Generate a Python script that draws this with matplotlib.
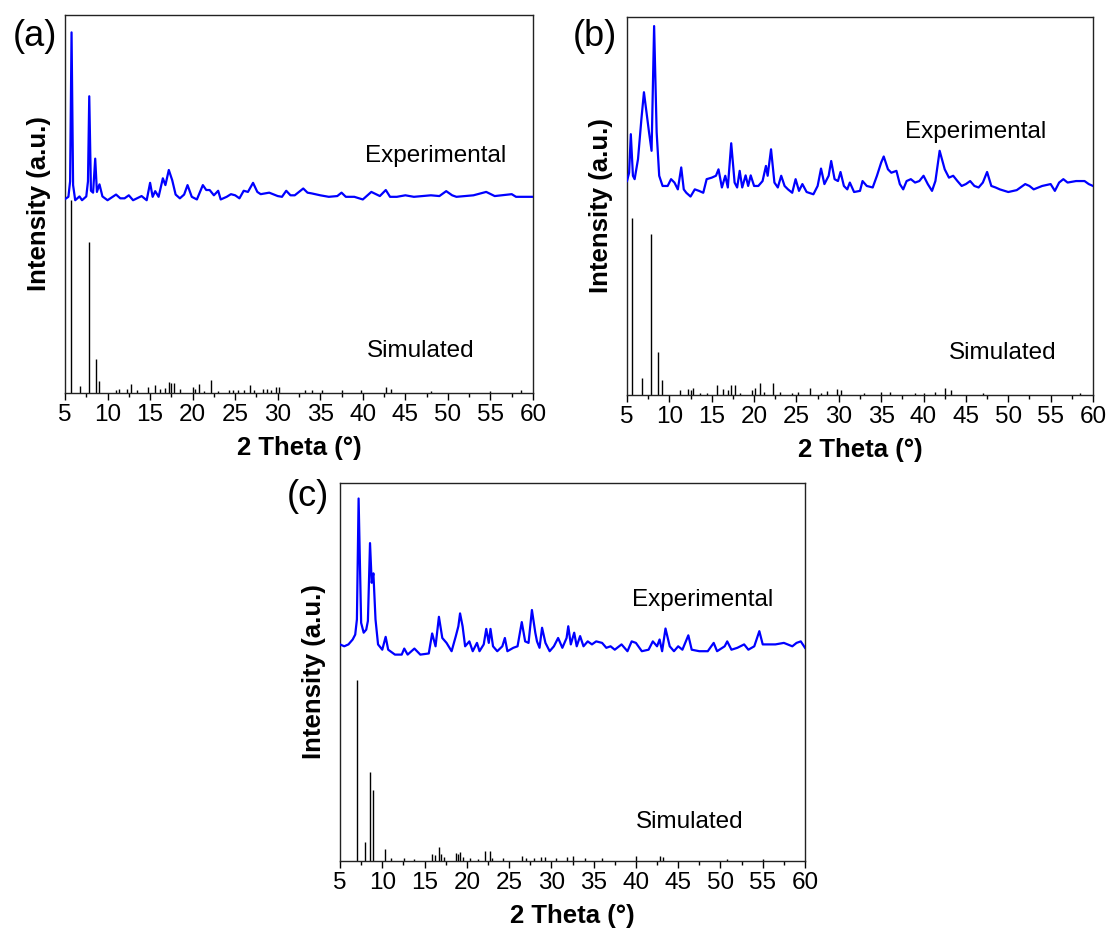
import numpy as np
import matplotlib
matplotlib.use("Agg")
import matplotlib.pyplot as plt
from matplotlib.ticker import MultipleLocator

plt.rcParams['font.family'] = ['Liberation Sans', 'DejaVu Sans']

# ---- panel (a) ----
a_exp_x = [5.0, 5.4, 5.6, 5.77, 5.95, 6.2, 6.7, 7.0, 7.5, 7.7, 7.85, 8.05, 8.3, 8.55, 8.75, 9.05, 9.4,
           10.0, 11.0, 11.5, 12.0, 12.5, 13.0, 14.0, 14.6, 15.0, 15.3, 15.6, 16.0, 16.5, 16.8, 17.2,
           17.6, 18.0, 18.5, 19.0, 19.4, 19.9, 20.5, 21.2, 21.6, 22.0, 22.5, 23.0, 23.3, 24.0, 24.5,
           25.0, 25.5, 26.0, 26.5, 27.1, 27.6, 28.0, 29.0, 30.0, 30.5, 31.0, 31.5, 32.0, 33.0, 33.5,
           34.0, 35.0, 36.0, 37.0, 37.5, 38.0, 39.0, 40.0, 41.0, 42.0, 42.7, 43.2, 44.0, 45.0, 46.0,
           47.0, 48.0, 49.0, 49.8, 50.5, 51.0, 52.0, 53.0, 54.5, 55.5, 57.5, 58.0, 60.0]
a_exp_y = [51.3, 51.9, 56.0, 95.4, 55.0, 51.0, 52.0, 51.0, 52.0, 56.0, 78.5, 53.5, 53.0, 62.0, 53.2, 55.2, 52.0,
           51.0, 52.5, 51.5, 51.5, 52.3, 51.0, 52.1, 51.0, 55.6, 51.9, 53.4, 51.9, 56.8, 55.0, 59.0,
           56.3, 52.5, 51.5, 52.5, 55.0, 51.9, 51.2, 55.0, 53.7, 53.7, 52.3, 53.5, 51.2, 51.9, 52.6,
           52.3, 51.5, 53.5, 53.2, 55.6, 53.2, 52.6, 53.0, 52.1, 51.9, 53.5, 52.3, 52.3, 54.1, 53.0,
           52.8, 52.3, 51.9, 52.1, 53.0, 51.9, 51.9, 51.2, 53.2, 52.1, 53.7, 51.9, 51.9, 52.3, 51.9,
           52.1, 52.3, 52.1, 53.4, 52.3, 51.9, 52.1, 52.3, 53.2, 52.1, 52.6, 51.9, 51.9]
a_sim_x = [5.7, 6.8, 7.85, 8.7, 9.05, 11.0, 11.3, 12.3, 12.8, 13.5, 14.7, 15.6, 16.2, 16.7, 17.2, 17.5,
           17.8, 18.5, 20.0, 20.3, 20.7, 21.3, 22.2, 23.0, 24.3, 24.8, 25.3, 26.0, 26.7, 27.2, 28.3,
           28.7, 29.2, 29.8, 30.2, 33.2, 34.0, 35.2, 37.5, 39.8, 42.7, 43.3, 48.0, 55.0, 58.6]
a_sim_y = [51.0, 1.8, 40.0, 9.0, 3.2, 0.9, 1.1, 1.1, 2.5, 0.9, 1.6, 2.0, 1.1, 1.4, 2.9, 2.6,
           2.7, 1.1, 1.6, 1.1, 2.5, 0.5, 3.4, 0.5, 0.7, 0.9, 0.9, 0.7, 2.0, 0.7, 1.1,
           1.1, 0.9, 1.6, 1.6, 0.7, 0.9, 0.9, 0.7, 0.7, 1.6, 1.1, 0.5, 0.4, 0.7]

# ---- panel (b) ----
b_exp_x = [5.0, 5.25, 5.45, 5.7, 5.9, 6.3, 6.7, 7.0, 7.3, 7.6, 7.9, 8.2, 8.5, 8.8, 9.2, 9.8, 10.2, 10.6,
           11.0, 11.4, 11.7, 12.0, 12.5, 13.0, 13.5, 14.0, 14.4, 15.0, 15.5, 15.8, 16.2, 16.6, 16.9,
           17.3, 17.7, 18.0, 18.3, 18.6, 19.0, 19.3, 19.6, 20.0, 20.5, 21.0, 21.4, 21.6, 22.0, 22.4,
           22.8, 23.2, 23.6, 24.0, 24.5, 24.9, 25.3, 25.7, 26.2, 27.0, 27.5, 27.9, 28.3, 28.8, 29.1,
           29.5, 29.9, 30.2, 30.6, 31.0, 31.3, 31.8, 32.5, 32.8, 33.3, 34.0, 34.5, 35.0, 35.3, 35.8,
           36.2, 36.8, 37.2, 37.6, 38.0, 38.5, 39.0, 39.5, 40.0, 40.5, 41.0, 41.4, 41.9, 42.5, 43.0,
           43.5, 44.0, 44.5, 45.0, 45.5, 46.0, 46.5, 47.0, 47.5, 48.0, 48.5, 49.0, 50.0, 51.0, 52.0,
           52.5, 53.0, 54.0, 55.0, 55.5, 56.0, 56.5, 57.0, 58.0, 59.0, 59.5, 60.0]
b_exp_y = [56.6, 58.8, 69.0, 58.0, 57.1, 62.4, 73.0, 80.1, 74.8, 69.5, 64.6, 97.6, 69.5, 58.0, 55.3, 55.3, 57.1, 56.2,
           54.4, 60.2, 54.4, 53.5, 52.5, 54.4, 54.0, 53.5, 57.1, 57.5, 58.0, 59.7, 54.9, 58.0, 54.9,
           66.6, 56.2, 54.9, 59.3, 54.9, 58.1, 55.3, 58.1, 55.3, 55.3, 56.6, 60.6, 58.0, 65.0, 56.2,
           54.9, 58.0, 55.3, 54.4, 53.5, 57.1, 54.0, 55.8, 53.7, 53.1, 55.3, 59.9, 55.8, 58.0, 61.9,
           57.1, 56.6, 59.0, 55.3, 54.4, 56.2, 53.7, 54.0, 56.6, 55.3, 54.9, 58.0, 61.5, 63.1, 59.7,
           58.8, 59.3, 55.8, 54.4, 56.6, 57.1, 56.2, 56.6, 58.0, 55.8, 54.0, 56.6, 64.6, 59.7, 57.5,
           58.0, 56.6, 55.3, 55.8, 56.6, 55.3, 54.9, 56.2, 59.0, 55.3, 54.9, 54.4, 53.7, 54.2, 55.8,
           55.3, 54.4, 55.3, 55.8, 54.0, 56.2, 57.1, 56.2, 56.6, 56.6, 55.8, 55.3]
b_sim_x = [5.6, 6.8, 7.8, 8.7, 9.1, 11.3, 12.2, 12.5, 12.8, 13.6, 14.5, 15.6, 16.3, 16.9, 17.3, 17.8,
           18.3, 19.8, 20.1, 20.7, 21.2, 22.2, 23.0, 24.5, 25.2, 26.6, 27.9, 28.6, 29.8, 30.2, 33.0,
           35.0, 36.0, 39.0, 40.0, 41.4, 42.5, 43.2, 47.0, 58.5]
b_sim_y = [46.9, 4.4, 42.5, 11.5, 4.0, 1.3, 1.5, 1.3, 1.9, 0.4, 0.6, 2.7, 1.5, 1.3, 2.7, 2.7,
           0.6, 1.3, 1.8, 3.3, 0.9, 3.3, 0.9, 0.6, 0.9, 1.8, 0.6, 1.0, 1.5, 1.2, 0.4,
           0.8, 0.7, 0.4, 0.6, 0.9, 1.9, 1.2, 0.4, 0.4]

# ---- panel (c) ----
c_exp_x = [5.0, 5.5, 6.0, 6.5, 6.8, 7.0, 7.2, 7.5, 7.8, 8.1, 8.3, 8.55, 8.75, 8.95, 9.2, 9.5, 10.0,
           10.4, 10.7, 11.5, 12.3, 12.6, 13.0, 13.8, 14.5, 15.5, 15.9, 16.3, 16.7, 17.1, 17.6, 18.2,
           18.7, 19.0, 19.2, 19.5, 19.8, 20.3, 20.7, 21.2, 21.5, 22.0, 22.3, 22.6, 22.8, 23.1, 23.6,
           24.2, 24.5, 24.8, 25.5, 26.0, 26.5, 26.9, 27.3, 27.7, 28.1, 28.3, 28.6, 28.9, 29.3, 29.8,
           30.3, 30.8, 31.3, 31.8, 32.0, 32.3, 32.7, 33.0, 33.4, 33.8, 34.3, 34.8, 35.3, 36.0, 36.5,
           37.0, 37.5, 38.3, 39.0, 39.5, 40.0, 40.7, 41.5, 42.0, 42.5, 42.8, 43.1, 43.5, 44.0, 44.5,
           45.0, 45.5, 46.2, 46.6, 47.5, 48.5, 49.2, 49.6, 50.5, 50.8, 51.3, 52.0, 52.8, 53.3, 54.0,
           54.6, 55.0, 55.5, 56.5, 57.5, 58.5, 59.0, 59.5, 60.0]
c_exp_y = [57.3, 56.8, 57.3, 58.6, 59.9, 63.9, 95.9, 63.0, 60.4, 61.2, 63.5, 84.1, 73.6, 76.1, 63.9, 57.3, 55.9,
           59.3, 55.9, 54.6, 54.6, 56.2, 54.6, 56.2, 54.6, 54.9, 60.2, 56.8, 64.6, 59.0, 57.7, 55.5,
           59.5, 62.1, 65.5, 62.1, 56.8, 58.1, 55.5, 57.7, 55.5, 57.3, 61.4, 57.7, 61.4, 56.8, 55.5,
           56.8, 59.0, 55.5, 56.4, 56.8, 63.2, 58.1, 57.7, 66.4, 60.4, 58.1, 56.4, 61.7, 57.7, 55.5,
           56.8, 59.0, 56.4, 59.0, 62.1, 57.3, 60.4, 56.8, 59.5, 56.8, 58.1, 57.3, 58.1, 57.7, 56.4,
           56.8, 55.9, 57.3, 55.5, 58.1, 57.7, 55.5, 55.9, 58.1, 56.8, 58.6, 55.5, 61.5, 56.8, 55.5,
           56.8, 55.9, 59.7, 55.9, 55.5, 55.5, 57.7, 55.5, 56.8, 58.1, 55.9, 56.4, 57.3, 55.9, 56.8,
           60.8, 57.3, 57.3, 57.3, 57.7, 56.8, 57.7, 58.1, 56.4]
c_sim_x = [7.05, 7.9, 8.5, 8.85, 10.3, 11.0, 12.6, 13.8, 15.9, 16.2, 16.7, 17.0, 17.3, 18.7, 19.0,
           19.2, 19.5, 20.4, 21.3, 22.2, 22.7, 23.0, 24.3, 26.5, 27.0, 28.0, 28.8, 29.3, 30.5, 31.8,
           32.6, 34.0, 36.0, 40.0, 42.8, 43.2, 50.8, 55.0]
c_sim_y = [47.8, 5.0, 23.5, 18.8, 3.1, 0.9, 0.9, 0.6, 1.9, 1.5, 3.7, 1.9, 1.1, 2.1, 1.8,
           2.4, 1.1, 0.9, 0.6, 2.6, 2.6, 0.8, 0.9, 1.3, 0.8, 0.8, 1.1, 1.1, 0.8, 1.1,
           1.2, 0.9, 0.7, 1.2, 1.3, 1.1, 0.4, 0.4]

tags = ['(a)', '(b)', '(c)']
exp_lbl_pos = [(48.6, 62.6), (46.2, 69.7), (47.9, 69.1)]
sim_lbl_pos = [(46.8, 11.0), (49.4, 11.1), (46.4, 10.3)]

fig = plt.figure(figsize=(11.1, 9.32), dpi=100)
W, H = 1110, 932
boxes = [(65, 15, 533, 393), (627, 17, 1093, 395), (340, 483, 805, 861)]
tag_pos = [(35, 37), (595, 37), (308, 497)]

panels = [(a_exp_x, a_exp_y, a_sim_x, a_sim_y),
          (b_exp_x, b_exp_y, b_sim_x, b_sim_y),
          (c_exp_x, c_exp_y, c_sim_x, c_sim_y)]

for i, (ex, ey, sx, sy) in enumerate(panels):
    l, t, r, b = boxes[i]
    ax = fig.add_axes([l / W, 1 - b / H, (r - l) / W, (b - t) / H])
    ax.vlines(sx, 0, sy, color='black', lw=1.0, zorder=2)
    ax.plot(ex, ey, color='#0000ff', lw=1.6, zorder=3)
    ax.set_xlim(5, 60)
    ax.set_ylim(0, 100)
    ax.xaxis.set_major_locator(MultipleLocator(5))
    ax.xaxis.set_minor_locator(MultipleLocator(2.5))
    ax.tick_params(axis='x', which='major', direction='out', length=5, width=1,
                   labelsize=17.5, pad=3)
    ax.tick_params(axis='x', which='minor', direction='out', length=3, width=1)
    ax.tick_params(axis='y', left=False, labelleft=False)
    for s in ax.spines.values():
        s.set_linewidth(1.0)
        s.set_color('#222222')
    ax.set_xlabel('2 Theta (°)', fontsize=18.5, fontweight='bold', labelpad=7)
    ax.set_ylabel('Intensity (a.u.)', fontsize=18.5, fontweight='bold', labelpad=10)
    ax.text(*exp_lbl_pos[i], 'Experimental', fontsize=17.5, ha='center', va='center')
    ax.text(*sim_lbl_pos[i], 'Simulated', fontsize=17.5, ha='center', va='center')
    fig.text(tag_pos[i][0] / W, 1 - tag_pos[i][1] / H, tags[i], fontsize=26,
             ha='center', va='center')

fig.savefig('out.png', dpi=100)
